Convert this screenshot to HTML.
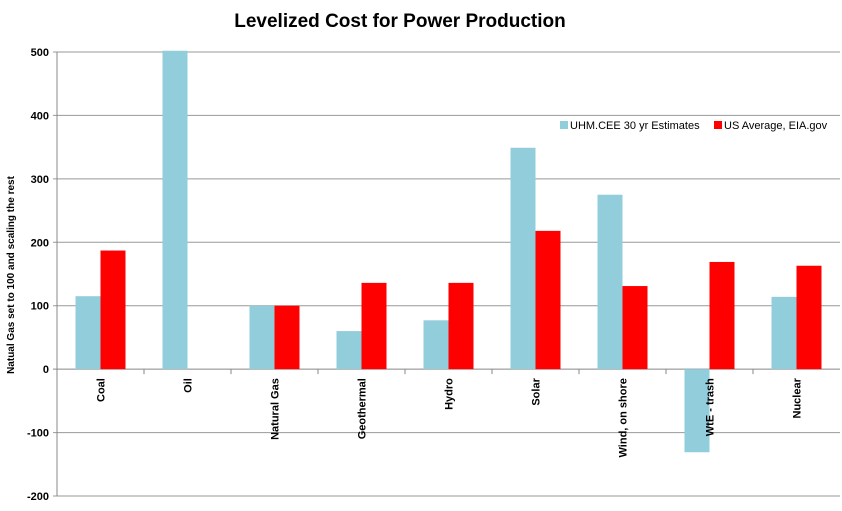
<!DOCTYPE html>
<html><head><meta charset="utf-8"><style>
body{margin:0;background:#fff}
svg{font-family:"Liberation Sans",sans-serif}
</style></head><body>
<svg width="842" height="506">
<text x="400" y="27" text-anchor="middle" font-size="19" font-weight="bold" fill="#000">Levelized Cost for Power Production</text>
<text transform="translate(14,275) rotate(-90)" text-anchor="middle" font-size="10" font-weight="bold">Natual Gas set to 100 and scaling  the rest</text>
<g id="grid"></g><g id="bars"></g><g id="labels"></g>
<g>
<rect x="560" y="121" width="8" height="8" fill="#92cddc"/>
<text x="570" y="129" font-size="11">UHM.CEE 30 yr Estimates</text>
<rect x="714" y="121" width="8" height="8" fill="#ff0000"/>
<text x="724" y="129" font-size="11">US Average, EIA.gov</text>
</g>
</svg>
<script>
const categories=["Coal","Oil","Natural Gas","Geothermal","Hydro","Solar","Wind, on shore","WtE - trash","Nuclear"];
const uhm=[115,505,100,60,77,349,275,-131,114];
const us=[187,null,100,136,136,218,131,169,163];
const ticks=[500,400,300,200,100,0,-100,-200];
const NS="http://www.w3.org/2000/svg";
const x0=57,x1=840,yTop=52,yBot=496,vMax=500,vMin=-200;
const y=v=>yTop+(vMax-v)/(vMax-vMin)*(yBot-yTop);
const bw=(x1-x0)/categories.length;
const cx=i=>x0+bw*(i+0.5);
function mk(tag,at,parent){const e=document.createElementNS(NS,tag);for(const k in at)e.setAttribute(k,at[k]);document.getElementById(parent).appendChild(e);return e;}
ticks.forEach(t=>{
 const l=mk('line',{x1:x0-4,x2:x1,y1:y(t),y2:y(t),stroke:t===0?'#888':'#999','stroke-width':1},'grid');
 
 
 const tx=mk('text',{x:x0-8,y:y(t)+4,'text-anchor':'end','font-size':11,'font-weight':'bold'},'grid');
 tx.textContent=t;
 
 
});
const ax=mk('line',{x1:x0,x2:x0,y1:yTop,y2:yBot,stroke:'#888'},'grid');


for(let i=1;i<categories.length;i++){
 const tk=mk('line',{x1:x0+bw*i,x2:x0+bw*i,y1:y(0),y2:y(0)+5,stroke:'#888'},'grid');
 
 
}
const w=25;
categories.forEach((c,i)=>{
 const a=uhm[i],v=Math.min(a,vMax+2);
 const r1=mk('rect',{x:cx(i)-w,y:Math.min(y(v),y(0)),width:w,height:Math.abs(y(v)-y(0)),fill:'#92cddc'},'bars');
 
 
 if(us[i]!=null){
  const r2=mk('rect',{x:cx(i),y:Math.min(y(us[i]),y(0)),width:w,height:Math.abs(y(us[i])-y(0)),fill:'#ff0000'},'bars');
  
  
 }
 const t=mk('text',{transform:`translate(${cx(i)+4},${y(0)+9}) rotate(-90)`,'text-anchor':'end','font-size':11,'font-weight':'bold'},'labels');
 t.textContent=c;
 
 
});
</script>
</body></html>
